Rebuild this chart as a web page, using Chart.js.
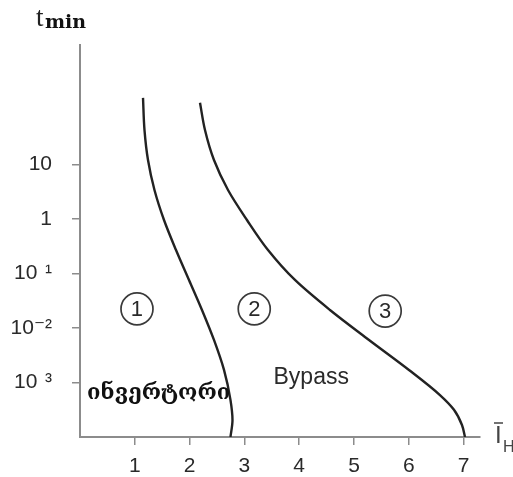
<!DOCTYPE html>
<html lang="ka">
<head>
  <meta charset="UTF-8">
  <title>t min — I H</title>
  <script src="https://cdn.jsdelivr.net/npm/chart.js@4"></script>
  <style>
    html, body { margin: 0; padding: 0; background: #fff; }
    #chart { display: block; }
  </style>
</head>
<body>
  <canvas id="chart" width="513" height="477"></canvas>

  <script>
    // x ticks (relative current) and the y tick labels, one per tick 1..5
    const xTicks = [1, 2, 3, 4, 5, 6, 7];
    const yTicks = [1, 2, 3, 4, 5];
    const yTickLabels = ["10 \u200A\u00B3", "10\u207B\u00B2", "10 \u200A\u00B9", "1", "10"];

    // inverter limit curve
    const inverterI = [1.150, 1.177, 1.241, 1.359, 1.533, 1.752, 1.989, 2.226, 2.445, 2.628, 2.746, 2.783, 2.746];
    const inverterT = [6.22, 5.63, 5.08, 4.53, 3.98, 3.43, 2.88, 2.33, 1.78, 1.23, 0.68, 0.31, 0.00];

    // bypass limit curve
    const bypassI = [2.190, 2.281, 2.445, 2.701, 3.047, 3.431, 3.923, 4.562, 5.274, 6.004, 6.569, 6.825, 6.971, 7.026];
    const bypassT = [6.13, 5.63, 5.08, 4.53, 3.98, 3.43, 2.88, 2.33, 1.78, 1.23, 0.77, 0.50, 0.22, 0.00];

    // region markers, anchored in data units
    const regionNames = ["1", "2", "3"];
    const regionI = [1.04, 3.18, 5.57];
    const regionT = [2.35, 2.35, 2.31];

    const toPoints = (xs, ys) => xs.map((v, i) => ({ x: v, y: ys[i] }));

    const AXIS_GREY = "#8c8c8c";
    const TEXT = "#2a2a2a";

    const annotations = {
      id: "annotations",
      afterDraw(chart) {
        const { ctx, chartArea, scales: { x, y } } = chart;
        ctx.save();

        // circled region numbers
        regionNames.forEach((name, i) => {
          const px = x.getPixelForValue(regionI[i]);
          const py = y.getPixelForValue(regionT[i]);
          ctx.beginPath();
          ctx.arc(px, py, 16, 0, Math.PI * 2);
          ctx.strokeStyle = "#3a3a3a";
          ctx.lineWidth = 1.7;
          ctx.stroke();
          ctx.fillStyle = TEXT;
          ctx.font = '22px "Liberation Sans", Arial, sans-serif';
          ctx.textAlign = "center";
          ctx.textBaseline = "middle";
          ctx.fillText(name, px, py + 1);
        });

        // Bypass caption
        ctx.font = '23px "Liberation Sans", Arial, sans-serif';
        ctx.fillStyle = TEXT;
        ctx.textAlign = "center";
        ctx.textBaseline = "middle";
        ctx.fillText("Bypass", x.getPixelForValue(4.22), y.getPixelForValue(1.08));

        // inverter caption, sized to sit between the axis and the curve
        const geo = "ინვერტორი";
        ctx.font = 'bold 20px "DejaVu Serif", "DejaVu Sans", serif';
        const w = ctx.measureText(geo).width;
        const size = Math.round(20 * 145 / w);
        ctx.font = `bold ${size}px "DejaVu Serif", "DejaVu Sans", serif`;
        ctx.fillStyle = "#111";
        ctx.textAlign = "left";
        ctx.textBaseline = "middle";
        ctx.fillText(geo, x.getPixelForValue(0.13), y.getPixelForValue(0.8));

        // y axis title: t_min
        const tx = chartArea.left - 43;
        ctx.textBaseline = "alphabetic";
        ctx.fillStyle = "#222";
        ctx.font = '27px "Liberation Serif", "DejaVu Serif", serif';
        ctx.fillText("t", tx - 1, chartArea.top - 19);
        ctx.fillStyle = "#111";
        ctx.font = 'bold 19px "DejaVu Serif", serif';
        ctx.fillText("min", tx + 8, chartArea.top - 17);

        // x axis title: I with an overbar, subscript H
        const ix = chartArea.right + 15;
        const iy = chartArea.bottom + 6;
        ctx.fillStyle = "#444";
        ctx.font = '24px "Liberation Sans", Arial, sans-serif';
        ctx.fillText("I", ix, iy);
        ctx.beginPath();
        ctx.moveTo(ix - 1, iy - 20);
        ctx.lineTo(ix + 8, iy - 20);
        ctx.strokeStyle = "#444";
        ctx.lineWidth = 1.5;
        ctx.stroke();
        ctx.font = '16px "Liberation Sans", Arial, sans-serif';
        ctx.fillText("H", ix + 8, iy + 9);

        ctx.restore();
      }
    };

    // time runs along the index axis so the monotone spline follows each curve
    const curveStyle = {
      pointRadius: 0,
      borderColor: "#222",
      borderWidth: 2.4,
      cubicInterpolationMode: "monotone",
      fill: false
    };

    new Chart(document.getElementById("chart"), {
      type: "line",
      data: {
        datasets: [
          { label: "inverter", data: toPoints(inverterI, inverterT), ...curveStyle },
          { label: "bypass", data: toPoints(bypassI, bypassT), ...curveStyle }
        ]
      },
      options: {
        indexAxis: "y",
        responsive: false,
        animation: false,
        layout: { padding: { top: 45, right: 33, left: 0, bottom: 0 } },
        plugins: { legend: { display: false }, tooltip: { enabled: false } },
        scales: {
          x: {
            type: "linear",
            min: 0,
            max: 7.3,
            afterFit: s => { s.height = 40; },
            afterBuildTicks: s => { s.ticks = xTicks.map(v => ({ value: v })); },
            border: { display: true, color: AXIS_GREY, width: 2 },
            grid: { drawOnChartArea: false, drawTicks: true, tickLength: 8, color: AXIS_GREY, lineWidth: 1.5 },
            ticks: {
              padding: 9,
              color: TEXT,
              font: { family: '"Liberation Sans", Arial, sans-serif', size: 21 },
              callback: v => String(v)
            }
          },
          y: {
            type: "linear",
            min: 0,
            max: 7.19,
            afterFit: s => { s.width = 80; },
            afterBuildTicks: s => { s.ticks = yTicks.map(v => ({ value: v })); },
            border: { display: true, color: AXIS_GREY, width: 2 },
            grid: { drawOnChartArea: false, drawTicks: true, tickLength: 8, color: AXIS_GREY, lineWidth: 1.5 },
            ticks: {
              padding: 20,
              color: TEXT,
              font: { family: '"Liberation Sans", "DejaVu Sans", Arial, sans-serif', size: 21 },
              callback: v => yTickLabels[yTicks.indexOf(v)] ?? ""
            }
          }
        }
      },
      plugins: [annotations]
    });
  </script>
</body>
</html>
